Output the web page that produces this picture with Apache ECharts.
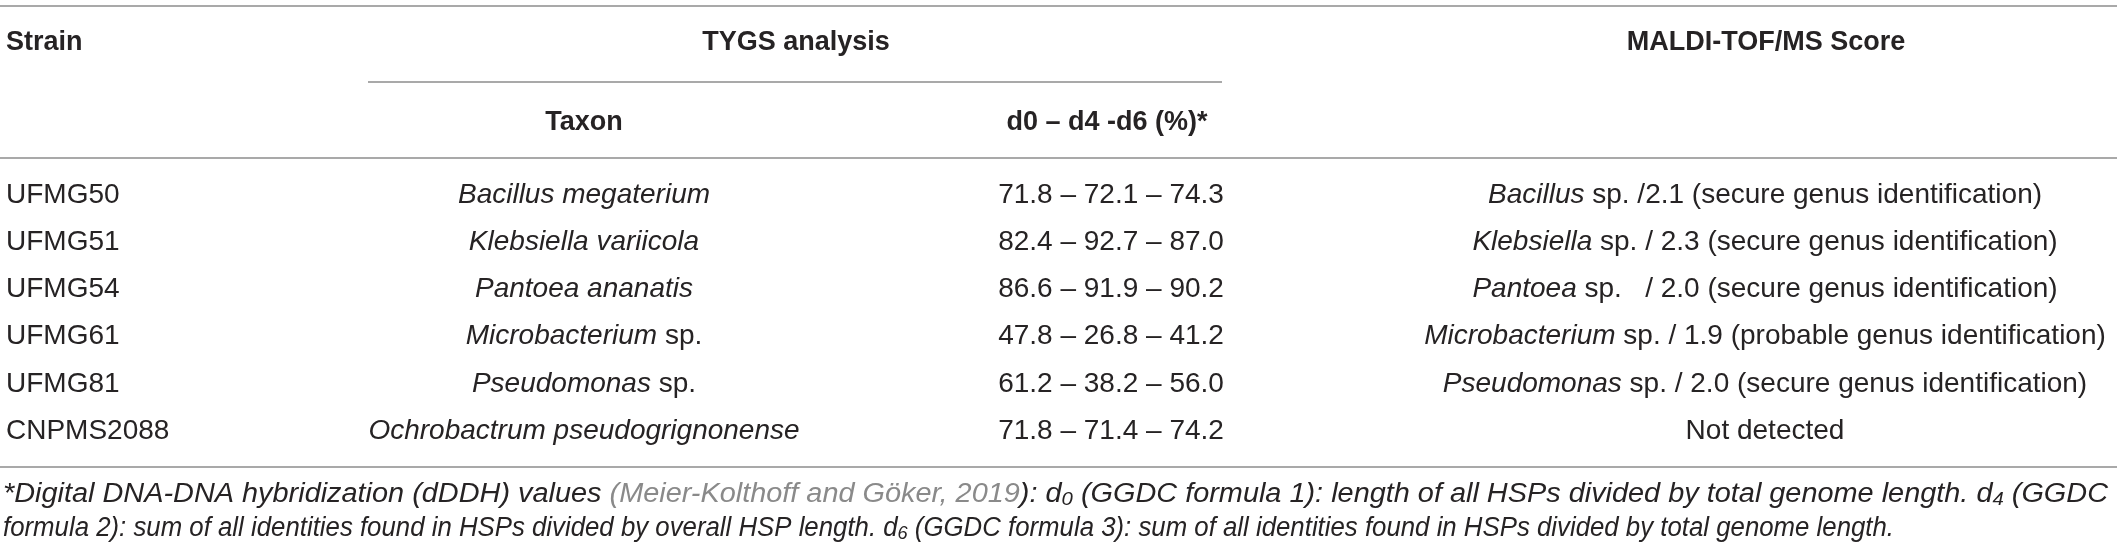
<!DOCTYPE html>
<html>
<head>
<meta charset="utf-8">
<title>TYGS and MALDI-TOF/MS identification</title>
<script src="https://cdn.jsdelivr.net/npm/echarts@6/dist/echarts.min.js"></script>
<style>
  html, body { margin: 0; padding: 0; background: #fff; }
  #table-chart { width: 2117px; height: 552px; }
</style>
</head>
<body>
<div id="table-chart"></div>
<script>
// Table data
const strains = ['UFMG50', 'UFMG51', 'UFMG54', 'UFMG61', 'UFMG81', 'CNPMS2088'];
const taxonGenus = ['Bacillus', 'Klebsiella', 'Pantoea', 'Microbacterium', 'Pseudomonas', 'Ochrobactrum'];
const taxonEpithet = ['megaterium', 'variicola', 'ananatis', 'sp.', 'sp.', 'pseudogrignonense'];
const d0 = [71.8, 82.4, 86.6, 47.8, 61.2, 71.8];
const d4 = [72.1, 92.7, 91.9, 26.8, 38.2, 71.4];
const d6 = [74.3, 87.0, 90.2, 41.2, 56.0, 74.2];
const maldiGenus = ['Bacillus', 'Klebsiella', 'Pantoea', 'Microbacterium', 'Pseudomonas', null];
const maldiSep = [' /', ' / ', '   / ', ' / ', ' / ', null];
const maldiScore = [2.1, 2.3, 2.0, 1.9, 2.0, null];
const maldiLevel = ['secure', 'secure', 'secure', 'probable', 'secure', null];

const headerTop = ['Strain', 'TYGS analysis', 'MALDI-TOF/MS Score'];
const headerSub = ['Taxon', 'd0 \u2013 d4 -d6 (%)*'];

// footnote pieces: [style, text]  (i = italic, c = citation, s = subscript)
const foot1 = [
    ['i', '*Digital DNA-DNA hybridization (dDDH) values '],
    ['c', '(Meier-Kolthoff and G\u00f6ker, 2019'],
    ['i', '): d'], ['s', '0'],
    ['i', ' (GGDC formula 1): length of all HSPs divided by total genome length. d'], ['s', '4'],
    ['i', ' (GGDC']
];
const foot2 = [
    ['i', 'formula 2): sum of all identities found in HSPs divided by overall HSP length. d'], ['s', '6'],
    ['i', ' (GGDC formula 3): sum of all identities found in HSPs divided by total genome length.']
];

const FONT = '"Liberation Sans", Arial, Helvetica, sans-serif';
const INK = '#262324';
const RULE = '#8c8c8c';
const W = 2117;

// column positions (px)
const colStrain = 6;
const colTaxon = 584;
const colValues = 1111;
const colMaldi = 1765;

function initializeTable() {
    const el = document.getElementById('table-chart');
    echarts.dispose(el);
    const chart = echarts.init(el, null, { renderer: 'canvas' });

    // measure the footnote lines so they can be fitted to the reference widths
    const ctx = document.createElement('canvas').getContext('2d');
    const fonts = {
        i: 'italic 27px ' + FONT,
        c: 'italic 27px ' + FONT,
        s: 'italic 19px ' + FONT
    };
    function measure(pieces) {
        return pieces.reduce((sum, p) => {
            ctx.font = fonts[p[0]];
            return sum + ctx.measureText(p[1]).width;
        }, 0);
    }
    const scale1 = (2108 - 3) / measure(foot1);
    const scale2 = (1894 - 3) / measure(foot2);

    const toRich = (pieces) => pieces.map(p => '{' + p[0] + '|' + p[1] + '}').join('');

    const footRich = {
        i: { fontStyle: 'italic', fontSize: 27, fontFamily: FONT, fill: INK },
        c: { fontStyle: 'italic', fontSize: 27, fontFamily: FONT, fill: '#8a8a8a' },
        s: { fontStyle: 'italic', fontSize: 19, fontFamily: FONT, fill: INK, padding: [12, 0, 0, 0] }
    };

    const rows = strains.map((s, i) => [0, i]);

    const option = {
        backgroundColor: '#ffffff',
        animation: false,
        grid: { left: 0, right: 0, top: 171.4, bottom: 97.4 },
        xAxis: { type: 'value', min: 0, max: W, show: false },
        yAxis: {
            type: 'category',
            data: strains,
            inverse: true,
            show: false
        },
        series: [{
            type: 'custom',
            data: rows,
            renderItem: function (params, api) {
                const i = params.dataIndex;
                const y = api.coord([0, api.value(1)])[1];
                const x = (c) => api.coord([c, 0])[0];
                const base = { fontSize: 28, fontFamily: FONT, fill: INK, verticalAlign: 'middle' };
                const rich = { it: { fontStyle: 'italic', fontSize: 28, fontFamily: FONT, fill: INK } };

                const taxonText = taxonEpithet[i] === 'sp.'
                    ? '{it|' + taxonGenus[i] + '} ' + taxonEpithet[i]
                    : '{it|' + taxonGenus[i] + ' ' + taxonEpithet[i] + '}';
                const valueText = d0[i].toFixed(1) + ' \u2013 ' + d4[i].toFixed(1) + ' \u2013 ' + d6[i].toFixed(1);
                const maldiText = maldiGenus[i]
                    ? '{it|' + maldiGenus[i] + '} sp.' + maldiSep[i] + maldiScore[i].toFixed(1) +
                      ' (' + maldiLevel[i] + ' genus identification)'
                    : 'Not detected';

                return {
                    type: 'group',
                    children: [
                        { type: 'text', style: Object.assign({}, base, { text: strains[i], x: x(colStrain), y: y, align: 'left' }) },
                        { type: 'text', style: Object.assign({}, base, { text: taxonText, rich: rich, x: x(colTaxon), y: y, align: 'center' }) },
                        { type: 'text', style: Object.assign({}, base, { text: valueText, x: x(colValues), y: y, align: 'center' }) },
                        { type: 'text', style: Object.assign({}, base, { text: maldiText, rich: rich, x: x(colMaldi), y: y, align: 'center' }) }
                    ]
                };
            }
        }],
        graphic: [
            // rules
            { type: 'line', shape: { x1: 0, y1: 6, x2: W, y2: 6 }, style: { stroke: RULE, lineWidth: 1.6 } },
            { type: 'line', shape: { x1: 368, y1: 82, x2: 1222, y2: 82 }, style: { stroke: RULE, lineWidth: 1.6 } },
            { type: 'line', shape: { x1: 0, y1: 158, x2: W, y2: 158 }, style: { stroke: RULE, lineWidth: 1.6 } },
            { type: 'line', shape: { x1: 0, y1: 467, x2: W, y2: 467 }, style: { stroke: RULE, lineWidth: 1.6 } },
            // header
            { type: 'text', left: 6, top: 29, style: { text: headerTop[0], font: 'bold 27px ' + FONT, fill: INK } },
            { type: 'text', x: 796, y: 43, style: { text: headerTop[1], font: 'bold 27px ' + FONT, fill: INK, align: 'center', verticalAlign: 'middle' } },
            { type: 'text', x: 1766, y: 43, style: { text: headerTop[2], font: 'bold 27px ' + FONT, fill: INK, align: 'center', verticalAlign: 'middle' } },
            { type: 'text', x: colTaxon, y: 123, style: { text: headerSub[0], font: 'bold 27px ' + FONT, fill: INK, align: 'center', verticalAlign: 'middle' } },
            { type: 'text', x: 1107, y: 123, style: { text: headerSub[1], font: 'bold 27px ' + FONT, fill: INK, align: 'center', verticalAlign: 'middle' } },
            // footnote
            {
                type: 'text', x: 3, y: 494, scaleX: scale1,
                style: { text: toRich(foot1), rich: footRich, verticalAlign: 'middle', align: 'left' }
            },
            {
                type: 'text', x: 3, y: 528, scaleX: scale2,
                style: { text: toRich(foot2), rich: footRich, verticalAlign: 'middle', align: 'left' }
            }
        ]
    };

    chart.setOption(option);
    window.addEventListener('resize', () => chart.resize());
}

document.addEventListener('DOMContentLoaded', initializeTable);
</script>
</body>
</html>
